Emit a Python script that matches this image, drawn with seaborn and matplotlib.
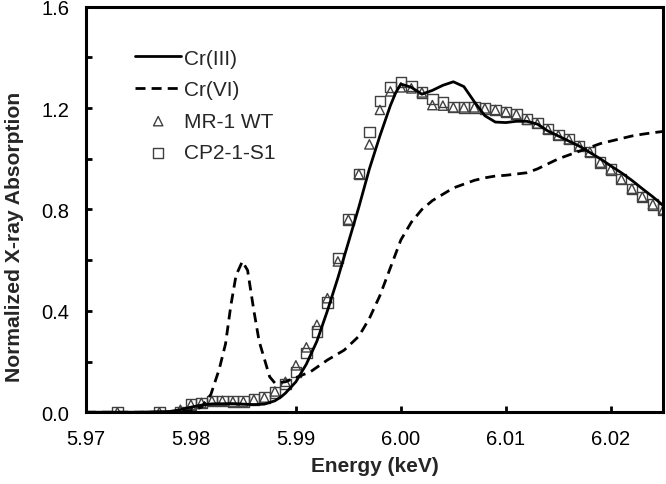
import numpy as np
import pandas as pd
import matplotlib
matplotlib.use("Agg")
import matplotlib.pyplot as plt
import seaborn as sns
from matplotlib.ticker import MultipleLocator, FormatStrFormatter

# Cr(III) reference (solid line)
cr3_e = [5.970, 5.975, 5.978, 5.979, 5.980, 5.981, 5.982, 5.984, 5.986, 5.987,
         5.988, 5.9886, 5.989, 5.990, 5.991, 5.992, 5.993, 5.994, 5.995, 5.996,
         5.997, 5.998, 5.999, 5.9995, 6.000, 6.001, 6.002, 6.003, 6.004, 6.005,
         6.006, 6.007, 6.008, 6.009, 6.010, 6.011, 6.012, 6.013, 6.014, 6.015,
         6.016, 6.017, 6.018, 6.019, 6.020, 6.021, 6.022, 6.023, 6.024, 6.025]
cr3_mu = [0.0, 0.0, 0.003, 0.01, 0.02, 0.028, 0.033, 0.034, 0.030, 0.032,
          0.045, 0.061, 0.075, 0.12, 0.19, 0.28, 0.40, 0.53, 0.67, 0.81,
          0.96, 1.09, 1.21, 1.26, 1.295, 1.282, 1.255, 1.27, 1.29, 1.304,
          1.285, 1.225, 1.17, 1.145, 1.143, 1.148, 1.148, 1.137, 1.11, 1.09,
          1.07, 1.05, 1.025, 1.0, 0.972, 0.945, 0.915, 0.882, 0.85, 0.815]

# Cr(VI) reference (dashed line)
cr6_e = [5.970, 5.978, 5.980, 5.981, 5.9819, 5.9827, 5.9833, 5.9838, 5.9843, 5.9849,
         5.9854, 5.9860, 5.9865, 5.9870, 5.9875, 5.9880, 5.9890, 5.9914, 5.993, 5.9946,
         5.996, 5.997, 5.998, 5.999, 6.000, 6.001, 6.002, 6.003, 6.004, 6.005,
         6.006, 6.007, 6.008, 6.009, 6.010, 6.011, 6.012, 6.013, 6.014, 6.015,
         6.016, 6.017, 6.018, 6.019, 6.020, 6.021, 6.022, 6.023, 6.024, 6.025]
cr6_mu = [0.0, 0.0, 0.005, 0.02, 0.07, 0.17, 0.27, 0.42, 0.54, 0.595,
          0.56, 0.40, 0.28, 0.21, 0.14, 0.115, 0.12, 0.16, 0.206, 0.245,
          0.30, 0.37, 0.46, 0.57, 0.68, 0.75, 0.80, 0.835, 0.86, 0.885,
          0.90, 0.915, 0.925, 0.932, 0.935, 0.94, 0.945, 0.96, 0.98, 1.0,
          1.015, 1.03, 1.045, 1.06, 1.07, 1.08, 1.09, 1.097, 1.103, 1.108]

# sample energies (keV)
samp_e = [5.973, 5.977] + [round(5.979 + 0.001 * i, 3) for i in range(47)]

wt_mu = [0.0, 0.0, 0.01, 0.03, 0.037, 0.045, 0.045, 0.042, 0.042, 0.05,
         0.058, 0.082, 0.12, 0.185, 0.256, 0.345, 0.45, 0.595, 0.76, 0.94,
         1.057, 1.193, 1.266, 1.282, 1.278, 1.262, 1.212, 1.21, 1.203, 1.203,
         1.203, 1.199, 1.193, 1.185, 1.176, 1.154, 1.139, 1.117, 1.093, 1.077,
         1.051, 1.027, 0.985, 0.958, 0.919, 0.882, 0.85, 0.82, 0.80]

s1_mu = [0.0, 0.0, 0.0, 0.03, 0.037, 0.045, 0.045, 0.042, 0.042, 0.05,
         0.058, 0.078, 0.11, 0.16, 0.235, 0.318, 0.433, 0.609, 0.76, 0.94,
         1.106, 1.227, 1.282, 1.302, 1.288, 1.262, 1.236, 1.223, 1.205, 1.203,
         1.203, 1.199, 1.193, 1.185, 1.176, 1.156, 1.141, 1.117, 1.093, 1.077,
         1.051, 1.027, 0.985, 0.958, 0.919, 0.882, 0.85, 0.82, 0.80]

sns.set_style("white")
plt.rcParams["font.family"] = ["Liberation Sans", "DejaVu Sans"]

fig, ax = plt.subplots(figsize=(6.66, 4.85), dpi=100)
fig.subplots_adjust(left=0.129, right=0.996, bottom=0.148, top=0.984)

sns.lineplot(x=cr3_e, y=cr3_mu, ax=ax, color="black", lw=2.0, label="Cr(III)")
sns.lineplot(x=cr6_e, y=cr6_mu, ax=ax, color="black", lw=2.0, label="Cr(VI)")
ax.lines[1].set_linestyle((0, (3.6, 2.2)))
sns.scatterplot(x=samp_e, y=wt_mu, ax=ax, marker="^", s=45, facecolor="none",
                edgecolor="#404040", linewidth=1.0, label="MR-1 WT")
sns.scatterplot(x=samp_e, y=s1_mu, ax=ax, marker="s", s=55, facecolor="none",
                edgecolor="#404040", linewidth=1.0, label="CP2-1-S1")

ax.set_xlim(5.97, 6.025)
ax.set_ylim(0, 1.6)
ax.xaxis.set_major_locator(MultipleLocator(0.01))
ax.yaxis.set_major_locator(MultipleLocator(0.4))
ax.yaxis.set_minor_locator(MultipleLocator(0.2))
ax.xaxis.set_major_formatter(FormatStrFormatter("%.2f"))
ax.yaxis.set_major_formatter(FormatStrFormatter("%.1f"))
ax.tick_params(which="both", direction="in", length=4, width=2, labelsize=14.5,
               colors="black", pad=12)
ax.tick_params(axis="y", which="minor", length=4, width=2, left=True)
ax.tick_params(axis="x", bottom=True)
ax.tick_params(axis="y", left=True)
for s in ax.spines.values():
    s.set_linewidth(2.2)
    s.set_color("black")

ax.set_xlabel("Energy (keV)", fontsize=15, fontweight="bold", labelpad=6)
ax.set_ylabel("Normalized X-ray Absorption", fontsize=15.2, fontweight="bold")
ax.yaxis.set_label_coords(-0.108, 0.436)

ax.legend(loc="upper left", bbox_to_anchor=(0.053, 0.943), frameon=False, fontsize=15,
          handlelength=2.2, handletextpad=0.15, labelspacing=0.6)

plt.savefig("out.png", dpi=100)
